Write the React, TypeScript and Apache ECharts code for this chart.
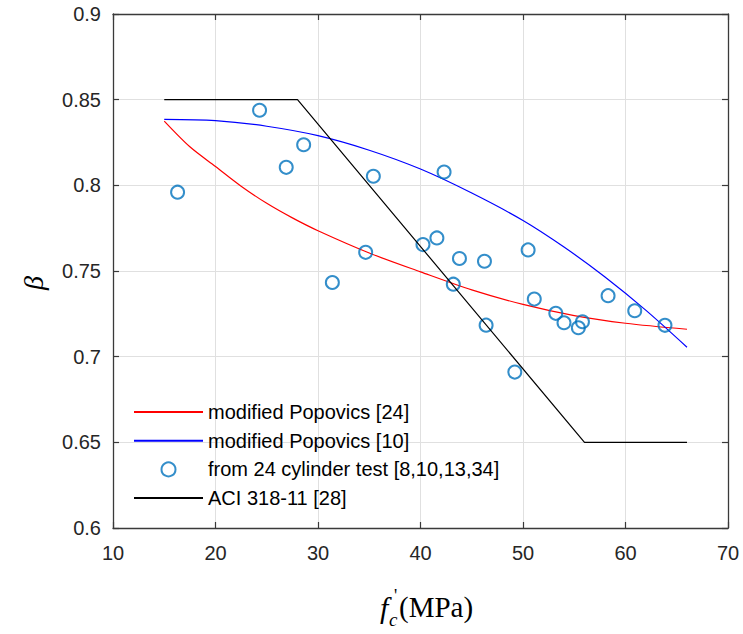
import React, { useEffect, useRef } from "react";
import * as echarts from "echarts";

// ---- data ----
const testFc = [16.3, 24.3, 26.9, 28.6, 31.4, 34.65, 35.4, 40.24, 41.6, 42.3, 43.2, 43.8, 46.24, 46.4, 49.2, 50.5, 51.1, 53.2, 54.0, 55.4, 55.8, 58.3, 60.9, 63.85];
const testBeta = [0.796, 0.8438, 0.8105, 0.8237, 0.7433, 0.7609, 0.8053, 0.7654, 0.7693, 0.8078, 0.7423, 0.7573, 0.7557, 0.7184, 0.691, 0.7623, 0.7336, 0.7253, 0.7198, 0.7169, 0.7204, 0.7356, 0.7268, 0.7183];

const popov24Fc = [15, 17.5, 20, 22.5, 25, 27.5, 30, 35, 40, 45, 50, 55, 60, 66];
const popov24Beta = [0.8375, 0.8225, 0.811, 0.7995, 0.7895, 0.781, 0.7735, 0.7605, 0.7495, 0.739, 0.7305, 0.724, 0.7195, 0.716];

const popov10Fc = [15, 20, 25, 30, 35, 40, 45, 50, 54, 58, 62, 66];
const popov10Beta = [0.8385, 0.8378, 0.8345, 0.829, 0.8205, 0.8095, 0.7955, 0.7795, 0.764, 0.7465, 0.727, 0.7055];

const aciFc = [15, 28, 56, 66];
const aciBeta = [0.85, 0.85, 0.65, 0.65];

const xTicks = { min: 10, max: 70, step: 10 };
const yTicks = { min: 0.6, max: 0.9, step: 0.05 };

const seriesNames = [
  "modified Popovics [24]",
  "modified Popovics [10]",
  "from 24 cylinder test [8,10,13,34]",
  "ACI 318-11 [28]",
];

const zip = (a: number[], b: number[]) => a.map((v, i) => [v, b[i]]);

const SANS = "'Liberation Sans', Arial, Helvetica, sans-serif";
const SERIF = "'Liberation Serif', 'Times New Roman', serif";
const AXIS_COLOR = "#3a3a3a";

export default function App() {
  const ref = useRef<HTMLDivElement>(null);

  useEffect(() => {
    if (!ref.current) return;
    const chart = echarts.init(ref.current, null, { renderer: "svg" });

    const baseAxis = {
      axisLine: { show: true, lineStyle: { color: AXIS_COLOR, width: 1.3 } },
      axisTick: { show: true, inside: true, length: 6, lineStyle: { color: AXIS_COLOR, width: 1.2 } },
    };

    chart.setOption({
      animation: false,
      backgroundColor: "#ffffff",
      grid: { left: 113, right: 15, top: 14, bottom: 106, containLabel: false },
      xAxis: [
        {
          type: "value",
          min: xTicks.min,
          max: xTicks.max,
          interval: xTicks.step,
          position: "bottom",
          ...baseAxis,
          axisLabel: { color: "#262626", fontSize: 20, fontFamily: SANS, margin: 15 },
          splitLine: { show: true, lineStyle: { color: "#e0e0e0", width: 1 } },
        },
        {
          type: "value",
          min: xTicks.min,
          max: xTicks.max,
          interval: xTicks.step,
          position: "top",
          ...baseAxis,
          axisLabel: { show: false },
          splitLine: { show: false },
        },
      ],
      yAxis: [
        {
          type: "value",
          min: yTicks.min,
          max: yTicks.max,
          interval: yTicks.step,
          position: "left",
          ...baseAxis,
          axisLabel: {
            color: "#262626",
            fontSize: 20,
            fontFamily: SANS,
            margin: 12,
            formatter: (v: number) => String(parseFloat(v.toFixed(2))),
          },
          splitLine: { show: true, lineStyle: { color: "#e0e0e0", width: 1 } },
        },
        {
          type: "value",
          min: yTicks.min,
          max: yTicks.max,
          interval: yTicks.step,
          position: "right",
          ...baseAxis,
          axisLabel: { show: false },
          splitLine: { show: false },
        },
      ],
      legend: {
        orient: "vertical",
        left: 133,
        top: 402,
        itemWidth: 69,
        itemHeight: 14,
        itemGap: 8.7,
        padding: 0,
        textStyle: { fontSize: 20, fontFamily: SANS, color: "#000000", padding: [0, 0, 0, 0], lineHeight: 20 },
        data: [
          { name: seriesNames[0], itemStyle: { opacity: 0 } },
          { name: seriesNames[1], itemStyle: { opacity: 0 } },
          { name: seriesNames[2] },
          { name: seriesNames[3], itemStyle: { opacity: 0 } },
        ],
      },
      graphic: [
        {
          type: "text",
          x: 33,
          y: 283,
          rotation: Math.PI / 2,
          style: {
            text: "β",
            font: `italic 28px ${SERIF}`,
            fill: "#000000",
            align: "center",
            verticalAlign: "middle",
          },
        },
        {
          type: "text",
          x: 380,
          y: 607,
          style: { text: "f", font: `italic 30px ${SERIF}`, fill: "#000000", align: "left", verticalAlign: "middle" },
        },
        {
          type: "text",
          x: 389,
          y: 619,
          style: { text: "c", font: `italic 19px ${SERIF}`, fill: "#000000", align: "left", verticalAlign: "middle" },
        },
        {
          type: "text",
          x: 394,
          y: 596,
          style: { text: "'", font: `18px ${SERIF}`, fill: "#000000", align: "left", verticalAlign: "middle" },
        },
        {
          type: "text",
          x: 399,
          y: 607,
          style: { text: "(MPa)", font: `29px ${SERIF}`, fill: "#000000", align: "left", verticalAlign: "middle" },
        },
      ],
      series: [
        {
          name: seriesNames[0],
          type: "line",
          data: zip(popov24Fc, popov24Beta),
          smooth: 0.3,
          symbol: "none",
          lineStyle: { color: "#ff0000", width: 1.2 },
          itemStyle: { color: "#ff0000" },
          z: 2,
        },
        {
          name: seriesNames[1],
          type: "line",
          data: zip(popov10Fc, popov10Beta),
          smooth: 0.3,
          symbol: "none",
          lineStyle: { color: "#0000ff", width: 1.2 },
          itemStyle: { color: "#0000ff" },
          z: 2,
        },
        {
          name: seriesNames[2],
          type: "scatter",
          data: zip(testFc, testBeta),
          symbol: "circle",
          symbolSize: 13,
          itemStyle: { color: "rgba(0,0,0,0)", borderColor: "#0072BD", borderWidth: 2 },
          z: 3,
        },
        {
          name: seriesNames[3],
          type: "line",
          data: zip(aciFc, aciBeta),
          symbol: "none",
          lineStyle: { color: "#000000", width: 1.2 },
          itemStyle: { color: "#000000" },
          z: 4,
        },
      ],
    });

    return () => chart.dispose();
  }, []);

  return (
    <div
      ref={ref}
      style={{ position: "absolute", left: 0, top: 0, width: 743, height: 634, background: "#fff" }}
    />
  );
}
